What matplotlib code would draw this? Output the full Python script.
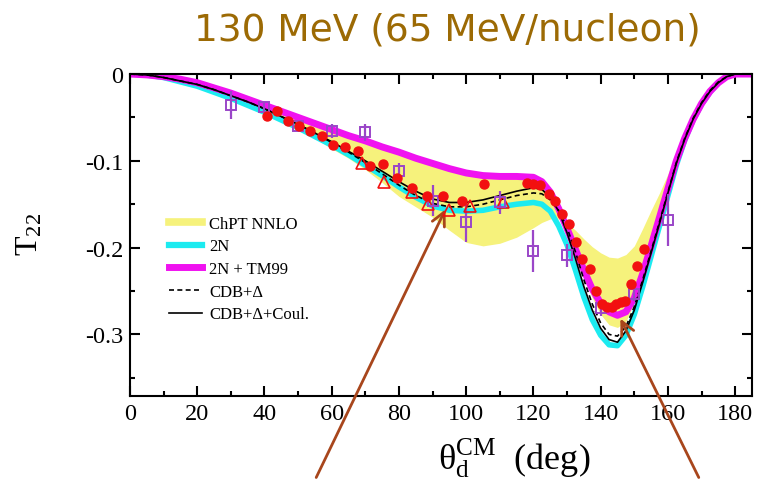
import matplotlib
matplotlib.use("Agg")
import matplotlib.pyplot as plt
from matplotlib.lines import Line2D
from matplotlib.ticker import MultipleLocator
import numpy as np

plt.rcParams['font.family'] = ['Liberation Serif', 'DejaVu Serif']
plt.rcParams['mathtext.fontset'] = 'custom'
plt.rcParams['mathtext.rm'] = 'Liberation Serif'
plt.rcParams['mathtext.it'] = 'Liberation Serif:italic'

# angle grid of the theory curves (deg)
theta = [0, 5, 10, 15, 20, 25, 30, 35, 40, 45, 50, 55, 60, 65, 70, 75, 80, 85, 90, 95,
         100, 105, 110, 115, 120, 122.5, 125, 127.5, 130, 132.5, 135, 137.5, 140, 142.5,
         145, 147.5, 150, 152.5, 155, 157.5, 160, 162.5, 165, 167.5, 170, 172.5, 175,
         177.5, 180, 185]

# ChPT NNLO band edges
chpt_a = [0, -0.001, -0.003, -0.006, -0.010, -0.015, -0.020, -0.026, -0.033, -0.040,
          -0.047, -0.054, -0.061, -0.068, -0.074, -0.081, -0.087, -0.094, -0.100, -0.106,
          -0.111, -0.114, -0.115, -0.115, -0.116, -0.121, -0.133, -0.153, -0.178, -0.205,
          -0.233, -0.258, -0.277, -0.289, -0.292, -0.285, -0.263, -0.233, -0.201, -0.167,
          -0.134, -0.101, -0.074, -0.051, -0.033, -0.019, -0.010, -0.003, 0, 0]
chpt_b = [0, -0.001, -0.004, -0.008, -0.013, -0.019, -0.026, -0.034, -0.042, -0.052,
          -0.063, -0.074, -0.086, -0.097, -0.110, -0.125, -0.141, -0.153, -0.165, -0.180,
          -0.194, -0.198, -0.195, -0.188, -0.177, -0.171, -0.167, -0.167, -0.172, -0.180,
          -0.190, -0.199, -0.206, -0.211, -0.212, -0.208, -0.198, -0.178, -0.157, -0.137,
          -0.115, -0.092, -0.072, -0.052, -0.034, -0.020, -0.010, -0.003, 0, 0]

# 2N and 2N + TM99
t22_2n = [0, -0.001, -0.004, -0.009, -0.014, -0.021, -0.028, -0.036, -0.044, -0.053,
          -0.062, -0.072, -0.082, -0.093, -0.105, -0.117, -0.130, -0.142, -0.152, -0.157,
          -0.158, -0.157, -0.153, -0.150, -0.148, -0.150, -0.158, -0.175, -0.197, -0.226,
          -0.257, -0.283, -0.301, -0.312, -0.313, -0.301, -0.277, -0.245, -0.210, -0.175,
          -0.140, -0.105, -0.076, -0.053, -0.035, -0.021, -0.010, -0.003, 0, 0]
t22_tm99 = [0, -0.001, -0.003, -0.006, -0.010, -0.016, -0.022, -0.029, -0.036, -0.043,
            -0.050, -0.057, -0.064, -0.071, -0.077, -0.084, -0.090, -0.097, -0.103, -0.109,
            -0.114, -0.117, -0.118, -0.118, -0.119, -0.124, -0.136, -0.155, -0.178, -0.202,
            -0.226, -0.248, -0.264, -0.274, -0.278, -0.274, -0.258, -0.230, -0.198, -0.165,
            -0.132, -0.100, -0.074, -0.052, -0.034, -0.020, -0.010, -0.003, 0, 0]

# CDB+Delta without and with Coulomb
t22_cdb = [0, -0.001, -0.004, -0.008, -0.012, -0.018, -0.025, -0.032, -0.040, -0.049,
           -0.058, -0.068, -0.079, -0.090, -0.102, -0.115, -0.128, -0.140, -0.149, -0.153,
           -0.153, -0.150, -0.145, -0.140, -0.137, -0.138, -0.145, -0.157, -0.177, -0.205,
           -0.237, -0.265, -0.287, -0.300, -0.302, -0.291, -0.268, -0.237, -0.204, -0.170,
           -0.136, -0.102, -0.074, -0.051, -0.033, -0.019, -0.009, -0.003, 0, 0]
t22_coul = [0, -0.001, -0.004, -0.008, -0.012, -0.018, -0.025, -0.032, -0.040, -0.049,
            -0.058, -0.068, -0.078, -0.089, -0.100, -0.112, -0.124, -0.135, -0.144, -0.148,
            -0.148, -0.145, -0.140, -0.135, -0.131, -0.133, -0.142, -0.158, -0.183, -0.213,
            -0.245, -0.272, -0.293, -0.306, -0.309, -0.296, -0.272, -0.240, -0.206, -0.172,
            -0.137, -0.103, -0.075, -0.052, -0.034, -0.020, -0.010, -0.003, 0, 0]

# measured points: red dots
dots_x = [40.7, 43.6, 46.9, 50.2, 53.5, 57, 60.3, 64, 67.8, 71.4, 75.2, 79.5, 83.8, 88.2,
          93, 98.8, 105.4, 118, 120, 122, 124.5, 126.5, 128.6, 130.5, 132.6, 134.5, 136.9,
          138.7, 140.5, 142, 143.4, 144.7, 146, 147.3, 149, 150.9, 153]
dots_y = [-0.048, -0.043, -0.054, -0.060, -0.066, -0.071, -0.082, -0.084, -0.089, -0.106,
          -0.104, -0.120, -0.131, -0.141, -0.140, -0.146, -0.127, -0.126, -0.127, -0.128,
          -0.138, -0.146, -0.161, -0.173, -0.193, -0.213, -0.225, -0.250, -0.265, -0.268,
          -0.268, -0.265, -0.263, -0.262, -0.242, -0.221, -0.202]

# open triangles
tri_x = [69, 75.5, 84, 88.5, 95, 101, 111]
tri_y = [-0.103, -0.124, -0.136, -0.150, -0.157, -0.152, -0.148]

# open squares with errors
sq_x = [30, 40, 50, 60, 70, 80, 90, 100, 110, 120, 130, 140, 150, 160]
sq_y = [-0.036, -0.038, -0.060, -0.066, -0.067, -0.112, -0.146, -0.171, -0.148, -0.204,
        -0.209, -0.270, -0.254, -0.168]
sq_err = [0.016, 0.005, 0.005, 0.008, 0.010, 0.010, 0.018, 0.023, 0.013, 0.024, 0.013,
          0.009, 0.008, 0.030]

yellow = '#f6f27c'
cyan = '#1cebf0'
magenta = '#f012f0'
purple = '#9a46c8'
red = '#f21010'
brown = '#a8461c'

fig = plt.figure(figsize=(7.66, 4.81), dpi=100)
ax = fig.add_axes([0.1697, 0.1746, 0.812, 0.6694])

ax.fill_between(theta, chpt_a, chpt_b, color=yellow, lw=0, zorder=1)
ax.plot(theta, t22_2n, color=cyan, lw=4.0, solid_capstyle='butt', zorder=2)
ax.plot(theta, t22_tm99, color=magenta, lw=5.0, solid_capstyle='butt', zorder=2)
ax.plot(theta, t22_cdb, color='black', lw=1.2, ls=(0, (3, 2)), zorder=3)
ax.plot(theta, t22_coul, color='black', lw=1.2, zorder=3)

ax.errorbar(sq_x, sq_y, yerr=sq_err, fmt='s', ms=7, mfc='none', mec=purple, mew=1.4,
            ecolor=purple, elinewidth=1.6, capsize=0, zorder=5)
ax.plot(tri_x, tri_y, '^', ms=8, mfc='none', mec=red, mew=1.2, zorder=5)
ax.plot(dots_x, dots_y, 'o', ms=6.5, color=red, mec=red, zorder=6)

ax.set_xlim(0, 185)
ax.set_ylim(-0.371, 0)
ax.xaxis.set_major_locator(MultipleLocator(20))
ax.xaxis.set_minor_locator(MultipleLocator(10))
ax.yaxis.set_major_locator(MultipleLocator(0.1))
ax.yaxis.set_minor_locator(MultipleLocator(0.05))
ax.set_yticks([0, -0.1, -0.2, -0.3])
ax.set_yticklabels(['0', '-0.1', '-0.2', '-0.3'])
ax.tick_params(which='both', direction='in', top=True, right=True, width=1.5,
               labelsize=17.5, pad=5)
ax.tick_params(which='major', length=7)
ax.tick_params(which='minor', length=3.5)
for sp in ax.spines.values():
    sp.set_linewidth(1.5)

ax.set_ylabel('T$_{22}$', fontsize=23)
ax.yaxis.set_label_coords(-0.137, 0.506)
ax.set_xlabel('θ$_{\\mathrm{d}}^{\\mathrm{CM}}$  (deg)', fontsize=26)
ax.xaxis.set_label_coords(0.617, -0.12)

handles = [Line2D([], [], color=yellow, lw=5.5),
           Line2D([], [], color=cyan, lw=4.5),
           Line2D([], [], color=magenta, lw=5),
           Line2D([], [], color='black', lw=1.2, ls=(0, (3, 2))),
           Line2D([], [], color='black', lw=1.2)]
labels = ['ChPT NNLO', '2N', '2N + TM99', 'CDB+Δ', 'CDB+Δ+Coul.']
ax.legend(handles, labels, loc='upper left', bbox_to_anchor=(0.062, 0.56),
          frameon=False, fontsize=12, handlelength=2.0, handletextpad=0.45,
          labelspacing=0.4, borderpad=0, borderaxespad=0)

fig.text(0.584, 0.916, '130 MeV (65 MeV/nucleon)', color='#9c6a04', fontsize=27,
         ha='center', va='baseline', family='DejaVu Sans')

# pointers from below the frame
ax.annotate('', xy=(94.2, -0.153), xycoords='data', xytext=(315, 0),
            textcoords='figure pixels',
            arrowprops=dict(arrowstyle='->', color=brown, lw=2, mutation_scale=24))
ax.annotate('', xy=(145.5, -0.279), xycoords='data', xytext=(700, 0),
            textcoords='figure pixels',
            arrowprops=dict(arrowstyle='->', color=brown, lw=2, mutation_scale=24))

fig.savefig('out.png', dpi=100)
